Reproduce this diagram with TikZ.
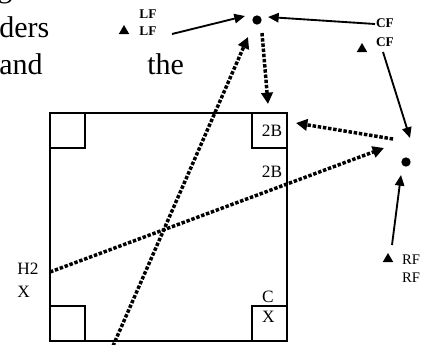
\documentclass[tikz,border=0pt]{standalone}
\usepackage{fontspec}
\setmainfont{Liberation Serif}
\usetikzlibrary{arrows.meta,shapes.geometric}
\begin{document}
\begin{tikzpicture}[x=0.75pt,y=-0.75pt,
  box/.style={draw,line width=1.3pt,inner sep=0pt},
  dot/.style={circle,fill,inner sep=0pt,minimum size=7pt},
  tri/.style={regular polygon,regular polygon sides=3,fill,inner sep=0pt,minimum size=9pt},
  smalllbl/.style={inner sep=0pt,font=\fontsize{10}{11}\selectfont\bfseries},
  rflbl/.style={inner sep=0pt,font=\fontsize{11}{12}\selectfont},
  midlbl/.style={inner sep=0pt,font=\fontsize{13}{14}\selectfont},
  body/.style={inner sep=0pt,anchor=base west,font=\fontsize{22.5}{27}\selectfont},
  solidarr/.style={line width=1.4pt,-{Triangle[length=8pt,width=7pt]}},
  dotarr/.style={line width=2.6pt,dash pattern=on 2.6pt off 1.3pt,-{Triangle[length=8.5pt,width=8.5pt]}}
]
\useasboundingbox (0,0) rectangle (425,344);
% body text fragments
\node[body] (tg) at (-3,-2.5) {g};
\node[body] (tders) at (-1,37) {ders};
\node[body] (tand) at (-1,74) {and};
\node[body] (tthe) at (147,74) {the};
% big rectangle and corner boxes
\node[box,minimum width=177.75pt,minimum height=171pt] (sq) at (168.5,227) {};
\node[box,minimum size=26.25pt,anchor=north west] (b1) at (sq.north west) {};
\node[box,minimum size=26.25pt,anchor=south west] (b3) at (sq.south west) {};
\node[box,minimum size=26.25pt,anchor=north east] (b2) at (sq.north east) {};
\node[box,minimum size=26.25pt,anchor=south east] (b4) at (sq.south east) {};
% labels
\node[midlbl] (l2b) at (272,131) {2B};
\node[midlbl] (l2bb) at (272,172) {2B};
\node[midlbl] (lc) at (268,297) {C};
\node[midlbl] (lx) at (268.5,317) {X};
\node[midlbl,anchor=west] (lh2) at (17,269) {H2};
\node[midlbl,anchor=west] (lhx) at (17,292) {X};
\node[smalllbl] (lf1) at (148,14) {LF};
\node[smalllbl] (lf2) at (148,31) {LF};
\node[smalllbl] (cf1) at (385,23) {CF};
\node[smalllbl] (cf2) at (385,42) {CF};
\node[rflbl] (rf1) at (411,260) {RF};
\node[rflbl] (rf2) at (411,278) {RF};
% markers
\node[dot] (tdot) at (257,20) {};
\node[dot] (rdot) at (406,162) {};
\node[tri] (lftri) at (124,31) {};
\node[tri] (cftri) at (362,49) {};
\node[tri] (rftri) at (388,259) {};
% connector ends
\coordinate (lfs) at (172,34);
\coordinate (lfe) at (245,16);
\coordinate (cfs) at (375,24);
\coordinate (cfe) at (268,17);
\coordinate (cfs2) at (383,52);
\coordinate (cfe2) at (410,138);
\coordinate (rfs) at (392,245);
\coordinate (rfe) at (401,175);
\coordinate (d1s) at (262,33);
\coordinate (d1e) at (268,104);
\coordinate (d2s) at (113,346);
\coordinate (d2e) at (248,37);
\coordinate (d3s) at (393,139);
\coordinate (d3e) at (296,123);
\coordinate (d4s) at (50,272);
\coordinate (d4e) at (384,148);
% solid arrows
\draw[solidarr] (lfs) -- (lfe);
\draw[solidarr] (cfs) -- (cfe);
\draw[solidarr] (cfs2) -- (cfe2);
\draw[solidarr] (rfs) -- (rfe);
% dotted arrows
\draw[dotarr] (d1s) -- (d1e);
\draw[dotarr] (d2s) -- (d2e);
\draw[dotarr] (d3s) -- (d3e);
\draw[dotarr] (d4s) -- (d4e);
\end{tikzpicture}
\end{document}
